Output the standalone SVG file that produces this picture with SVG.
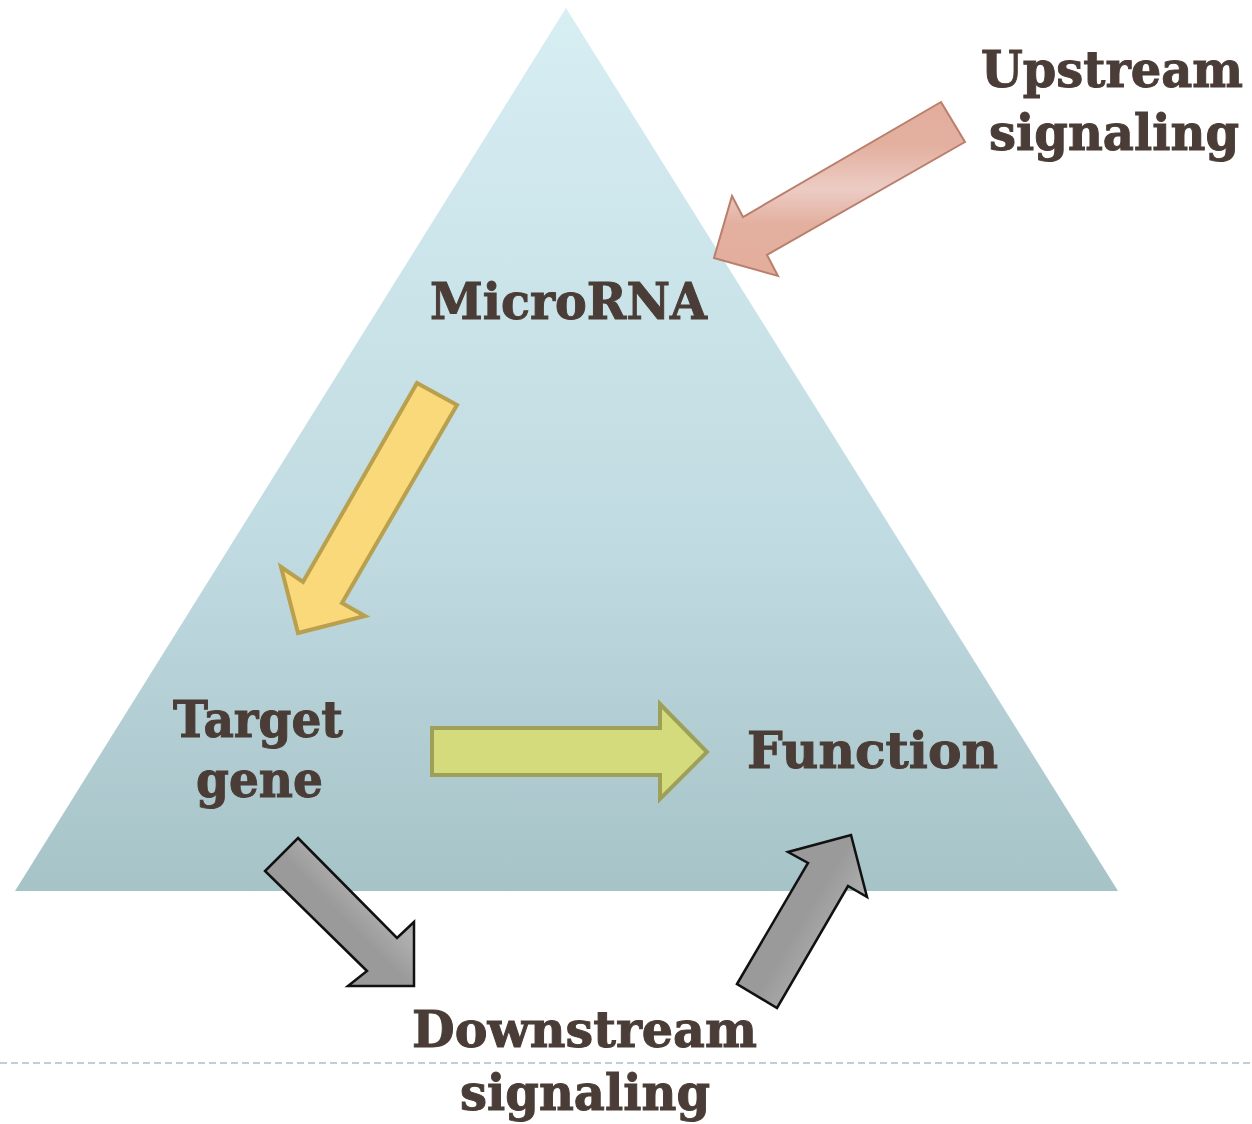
<svg xmlns="http://www.w3.org/2000/svg" width="1252" height="1124" viewBox="0 0 1252 1124">
<defs>
<linearGradient id="triG" x1="0" y1="0" x2="0" y2="1">
<stop offset="0" stop-color="#d7eef3"/>
<stop offset="0.6" stop-color="#c0dbe1"/>
<stop offset="1" stop-color="#a6c3c8"/>
</linearGradient>
<linearGradient id="pinkG" gradientUnits="userSpaceOnUse" x1="0" y1="102" x2="0" y2="276">
<stop offset="0" stop-color="#e3ad9b"/>
<stop offset="0.25" stop-color="#e3b0a0"/>
<stop offset="0.5" stop-color="#ecccc4"/>
<stop offset="0.7" stop-color="#e3b0a0"/>
<stop offset="1" stop-color="#e3ad9b"/>
</linearGradient>
<linearGradient id="grayG1" gradientUnits="userSpaceOnUse" x1="281" y1="854" x2="330" y2="806">
<stop offset="0" stop-color="#9a9a9a"/>
<stop offset="0.5" stop-color="#b0b0b0"/>
<stop offset="1" stop-color="#9a9a9a"/>
</linearGradient>
<linearGradient id="grayG2" gradientUnits="userSpaceOnUse" x1="757" y1="996" x2="830" y2="1040">
<stop offset="0" stop-color="#9a9a9a"/>
<stop offset="0.5" stop-color="#b0b0b0"/>
<stop offset="1" stop-color="#9a9a9a"/>
</linearGradient>
</defs>
<style>
.lbl{font-family:"DejaVu Serif","Liberation Serif",serif;font-weight:bold;font-size:50px;fill:#4a3c36;stroke:#4a3c36;stroke-width:1;text-anchor:middle}
.gray{stroke:#111;stroke-width:2.5;stroke-linejoin:miter}
</style>
<g id="triangle">
<polygon points="566,8 1118,891 15,891" fill="url(#triG)"/>
</g>
<line id="divider" x1="0" y1="1063" x2="1252" y2="1063" stroke="#a9bfd0" stroke-width="1.5" stroke-dasharray="7,4"/>
<g id="connectors">
<polygon id="arrow-upstream" points="941,102 965,142 767,255 778,276 714,258 732,196 743,217" fill="url(#pinkG)" stroke="#ba7f6c" stroke-width="2"/>
<polygon id="arrow-mirna-target" points="417,383 457,405 342,603 365,616 298,633 281,567 303,582" fill="#f9d97a" stroke="#b9a04e" stroke-width="4"/>
<polygon id="arrow-target-function" points="432,728 660,728 660,704 707,752 660,799 660,775 432,775" fill="#d4db7c" stroke="#9ea058" stroke-width="4"/>
<polygon id="arrow-target-down" class="gray" points="298,838 397,938 414,922 414,986 348,986 367,971 265,871" fill="url(#grayG1)"/>
<polygon id="arrow-down-function" class="gray" points="737,984 808,863 788,852 851,835 867,897 848,886 777,1008" fill="url(#grayG2)"/>
</g>
<g id="node-upstream">
<text class="lbl" x="1112" y="87" textLength="262" lengthAdjust="spacingAndGlyphs">Upstream</text>
<text class="lbl" x="1114" y="150" textLength="250" lengthAdjust="spacingAndGlyphs">signaling</text>
</g>
<g id="node-microrna">
<text class="lbl" x="568.5" y="319" textLength="277" lengthAdjust="spacingAndGlyphs">MicroRNA</text>
</g>
<g id="node-target">
<text class="lbl" x="258" y="737" textLength="170" lengthAdjust="spacingAndGlyphs">Target</text>
<text class="lbl" x="259.5" y="797" textLength="127" lengthAdjust="spacingAndGlyphs">gene</text>
</g>
<g id="node-function">
<text class="lbl" x="872.5" y="768" textLength="251" lengthAdjust="spacingAndGlyphs">Function</text>
</g>
<g id="node-downstream">
<text class="lbl" x="584.5" y="1047" textLength="345" lengthAdjust="spacingAndGlyphs">Downstream</text>
<text class="lbl" x="585" y="1110" textLength="250" lengthAdjust="spacingAndGlyphs">signaling</text>
</g>
</svg>
